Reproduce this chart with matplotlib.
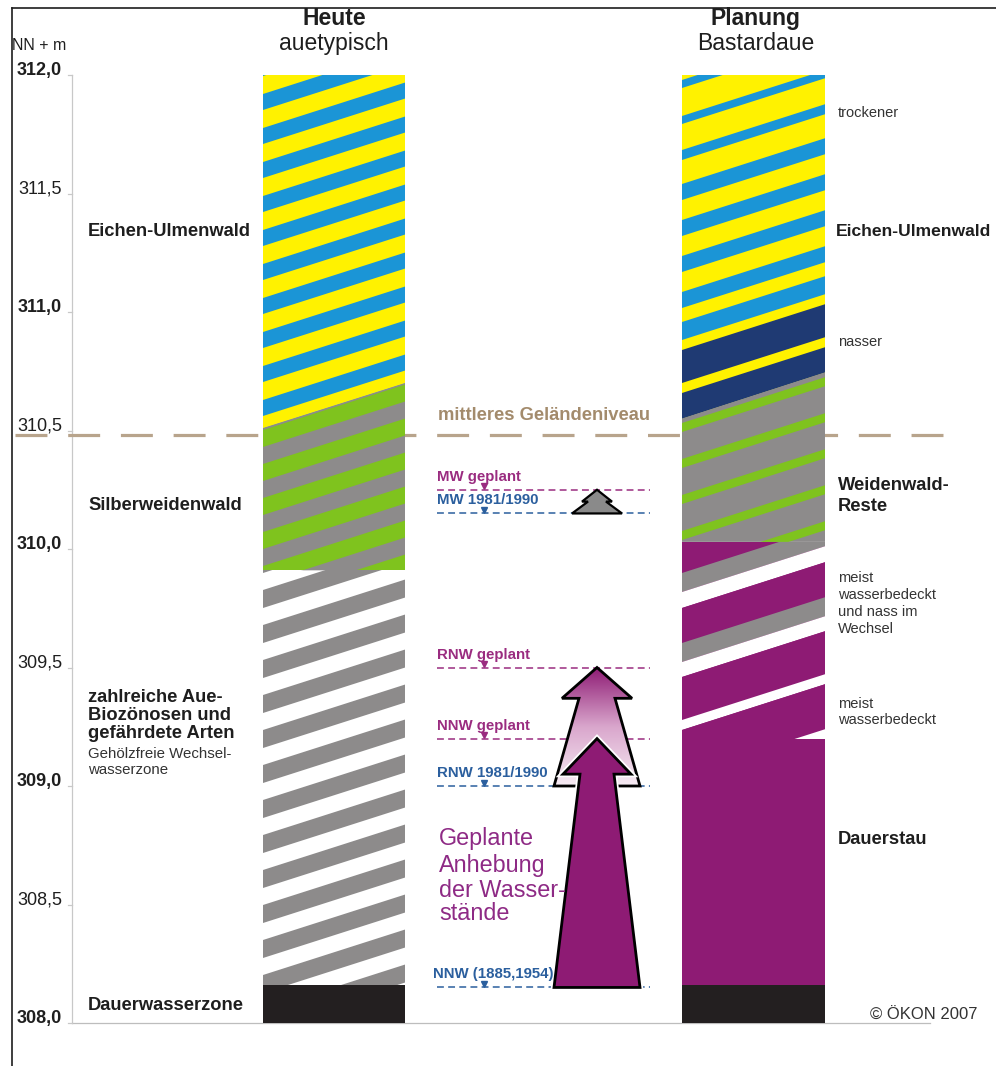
import matplotlib
matplotlib.use("Agg")
import matplotlib.pyplot as plt
import matplotlib.patheffects as pe
import numpy as np
from matplotlib.colors import LinearSegmentedColormap
from matplotlib.patches import Polygon

plt.rcParams["font.family"] = ["Liberation Sans", "DejaVu Sans"]

# ---- data -------------------------------------------------------------
TICKS = [308.0, 308.5, 309.0, 309.5, 310.0, 310.5, 311.0, 311.5, 312.0]
TICK_LABELS = ["308,0", "308,5", "309,0", "309,5", "310,0", "310,5", "311,0", "311,5", "312,0"]
TICK_BOLD = [True, False, True, False, True, False, True, False, True]

GELAENDE = 310.48

LEVEL_NAMES = ["MW geplant", "MW 1981/1990", "RNW geplant", "NNW geplant",
               "RNW 1981/1990", "NNW (1885,1954)"]
LEVEL_VALUES = [310.25, 310.15, 309.50, 309.20, 309.00, 308.15]
LEVEL_PLANNED = [True, False, True, True, False, False]

# (from, to) pairs for the arrows, as indexes into LEVEL_VALUES
ARROW_PAIRS = [(1, 0), (4, 2), (5, 3)]

# zone tops (m) at left / right edge of each column, bottom is 308.0
BOTTOM = 308.0
HEUTE_TOP_L = [312.0, 310.51, 309.91, 308.16]
HEUTE_TOP_R = [312.0, 310.70, 309.91, 308.16]
PLAN_TOP_L = [312.0, 310.55, 310.03, 309.20, 308.16]
PLAN_TOP_R = [312.0, 310.745, 310.03, 309.20, 308.16]

# ---- style ------------------------------------------------------------
INK = "#1e1e1e"
YELLOW = "#fff200"
BLUE = "#1b95d6"
NAVY = "#1f3a73"
GREEN = "#7fc31e"
GREY = "#8d8b8b"
PURPLE = "#8e1b74"
BLACK = "#231f20"
TAN = "#b8a48c"
TAN_TEXT = "#a38b6c"
LBL_PURPLE = "#9a2c80"
LBL_BLUE = "#2b5f9e"

W, H = 996, 1066
TOP_PX, PX_PER_M, TOP_M = 75, 237.0, 312.0
SLOPE = 0.32 / PX_PER_M          # stripe rise in m per px
COL_L = (263, 405)
COL_R = (682, 825)


def m(px):
    return TOP_M - (px - TOP_PX) / PX_PER_M


def zone(ax, x0, x1, tl, tr, bl, br, color, bands=()):
    bg = Polygon([(x0, tl), (x1, tr), (x1, br), (x0, bl)], closed=True,
                 facecolor=color, edgecolor="none", zorder=2)
    ax.add_patch(bg)
    rise = SLOPE * (x1 - x0)
    for top_px, bot_px, c in bands:
        yt, yb = m(top_px), m(bot_px)
        p = Polygon([(x0, yt), (x1, yt + rise), (x1, yb + rise), (x0, yb)],
                    closed=True, facecolor=c, edgecolor="none", zorder=2.1)
        ax.add_patch(p)
        p.set_clip_path(bg)


def arrow_pts(xc, yb, yt, head, hw, sw_top, sw_bot):
    return [(xc, yt), (xc + hw, yt - head), (xc + sw_top, yt - head),
            (xc + sw_bot, yb), (xc - sw_bot, yb), (xc - sw_top, yt - head),
            (xc - hw, yt - head)]


def tree_pts(xc, yb, yt):
    mid = yt - 0.5 * (yt - yb)
    return [(xc, yt), (xc + 15, mid), (xc + 9, mid), (xc + 25, yb),
            (xc - 25, yb), (xc - 9, mid), (xc - 15, mid)]


def txt(ax, x, y_px, s, size, bold=False, color=INK, ha="left"):
    ax.text(x, m(y_px), s, fontsize=size, fontweight="bold" if bold else "normal",
            color=color, ha=ha, va="baseline", zorder=6)


fig = plt.figure(figsize=(W / 100, H / 100), dpi=100)
ax = fig.add_axes([0, 0, 1, 1])
ax.set_axis_off()

# frame
ax.plot([12, W], [m(8), m(8)], color=INK, lw=1.2, zorder=1)
ax.plot([12, 12], [m(8), m(H)], color=INK, lw=1.2, zorder=1)

# elevation axis
ax.plot([72, 72], [BOTTOM, TOP_M], color="#c8c8c8", lw=0.9, zorder=1)
ax.plot([72, 930], [BOTTOM, BOTTOM], color="#bdbdbd", lw=0.9, zorder=1)
for v, lab, b in zip(TICKS, TICK_LABELS, TICK_BOLD):
    ax.plot([68, 72], [v, v], color="#c8c8c8", lw=0.9, zorder=1)
    ax.text(62, v, lab, fontsize=13, fontweight="bold" if b else "normal",
            color=INK, ha="right", va="baseline")
txt(ax, 12, 50, "NN + m", 11.5)

# mittleres Gelaendeniveau
ax.plot([15, 962], [GELAENDE, GELAENDE], color=TAN, lw=2.3, dashes=(10, 6.5), zorder=1)
txt(ax, 544, 420, "mittleres Geländeniveau", 13.2, bold=True, color=TAN_TEXT, ha="center")

# ---- left column (Heute) ----------------------------------------------
x0, x1 = COL_L
tl = HEUTE_TOP_L + [BOTTOM]
tr = HEUTE_TOP_R + [BOTTOM]
zone(ax, x0, x1, tl[0], tr[0], tl[1], tr[1], YELLOW,
     [(s, s + 16, BLUE) for s in range(400, 0, -34)])
zone(ax, x0, x1, tl[1], tr[1], tl[2], tr[2], GREEN,
     [(447 + 34 * k, 447 + 34 * k + 17, GREY) for k in range(-3, 6)])
zone(ax, x0, x1, tl[2], tr[2], tl[3], tr[3], "white",
     [(590 + 35 * k, 590 + 35 * k + 18, GREY) for k in range(-2, 13)])
zone(ax, x0, x1, tl[3], tr[3], tl[4], tr[4], BLACK)

# ---- right column (Planung) -------------------------------------------
x0, x1 = COL_R
tl = PLAN_TOP_L + [BOTTOM]
tr = PLAN_TOP_R + [BOTTOM]
zone(ax, x0, x1, tl[0], tr[0], tl[1], tr[1], YELLOW,
     [(45, 52, BLUE), (80, 88, BLUE), (116, 124, BLUE), (150, 160, BLUE),
      (184, 200, BLUE), (220, 236, BLUE), (256, 272, BLUE), (292, 308, BLUE),
      (322, 340, BLUE), (350, 383, NAVY), (393, 420, NAVY)])
zone(ax, x0, x1, tl[1], tr[1], tl[2], tr[2], GREY,
     [(423 + 36 * k, 423 + 36 * k + 9, GREEN) for k in range(-1, 6)])
zone(ax, x0, x1, tl[2], tr[2], tl[3], tr[3], PURPLE,
     [(480, 541, GREY), (541, 573, PURPLE), (573, 592, GREY), (592, 608, "white"),
      (608, 643, PURPLE), (643, 662, GREY), (662, 677, "white"),
      (677, 720, PURPLE), (720, 730, "white"), (730, 775, PURPLE),
      (775, 786, "white")])
zone(ax, x0, x1, tl[3], tr[3], tl[4], tr[4], PURPLE)
zone(ax, x0, x1, tl[4], tr[4], tl[5], tr[5], BLACK)

# ---- water levels -----------------------------------------------------
for name, v, planned in zip(LEVEL_NAMES, LEVEL_VALUES, LEVEL_PLANNED):
    c = LBL_PURPLE if planned else LBL_BLUE
    ax.plot([437, 650], [v, v], color=c, lw=1.1, dashes=(4.5, 2.8), zorder=3)
    ax.plot([484], [v + 3.5 / PX_PER_M], marker="v", ms=4.5, color=c, zorder=3)
    x_lab = 433 if name.startswith("NNW (") else 437
    ax.text(x_lab, v + 9 / PX_PER_M, name, fontsize=10.8, fontweight="bold",
            color=c, ha="left", va="baseline", zorder=6)

# arrows
XC = 597
lo, hi = ARROW_PAIRS[0]
ax.add_patch(Polygon(tree_pts(XC, LEVEL_VALUES[lo], LEVEL_VALUES[hi]), closed=True,
                     facecolor="#8a8a8a", edgecolor="black", lw=1.6, zorder=5))

lo, hi = ARROW_PAIRS[1]
pts = arrow_pts(XC, LEVEL_VALUES[lo], LEVEL_VALUES[hi], 0.13, 35, 18, 43)
grad_patch = Polygon(pts, closed=True, facecolor="none", edgecolor="black", lw=2, zorder=5)
ax.add_patch(grad_patch)
cmap = LinearSegmentedColormap.from_list("rise", ["#f7ecf4", "#d9a6cc", PURPLE])
im = ax.imshow(np.linspace(0, 1, 256).reshape(-1, 1), cmap=cmap, origin="lower",
               extent=(XC - 45, XC + 45, LEVEL_VALUES[lo], LEVEL_VALUES[hi]),
               aspect="auto", zorder=4.5)
im.set_clip_path(grad_patch)

lo, hi = ARROW_PAIRS[2]
solid = Polygon(arrow_pts(XC, LEVEL_VALUES[lo], LEVEL_VALUES[hi], 0.15, 34, 17, 43),
                closed=True, facecolor=PURPLE, edgecolor="black", lw=2, zorder=5.5)
solid.set_path_effects([pe.Stroke(linewidth=4.5, foreground="white"), pe.Normal()])
ax.add_patch(solid)

for y_px, s in zip([845, 872, 897, 920], ["Geplante", "Anhebung", "der Wasser-", "stände"]):
    txt(ax, 439, y_px, s, 16.8, color="#8e2a85")

# ---- headers and zone labels ------------------------------------------
txt(ax, 334, 25, "Heute", 16.5, bold=True, ha="center")
txt(ax, 334, 50, "auetypisch", 16.5, ha="center")
txt(ax, 756, 25, "Planung", 16.5, bold=True, ha="center")
txt(ax, 756, 50, "Bastardaue", 16.5, ha="center")

txt(ax, 88, 236, "Eichen-Ulmenwald", 13.2, bold=True)
txt(ax, 88, 510, "Silberweidenwald", 13.2, bold=True)
for y_px, s in zip([702, 720, 738], ["zahlreiche Aue-", "Biozönosen und", "gefährdete Arten"]):
    txt(ax, 88, y_px, s, 13.2, bold=True)
txt(ax, 88, 758, "Gehölzfreie Wechsel-", 10.8, color="#333333")
txt(ax, 88, 774, "wasserzone", 10.8, color="#333333")
txt(ax, 88, 1010, "Dauerwasserzone", 13.2, bold=True)

txt(ax, 838, 117, "trockener", 10.5, color="#333333")
txt(ax, 836, 236, "Eichen-Ulmenwald", 12.6, bold=True)
txt(ax, 838, 346, "nasser", 10.5, color="#333333")
txt(ax, 838, 490, "Weidenwald-", 13.2, bold=True)
txt(ax, 838, 511, "Reste", 13.2, bold=True)
for y_px, s in zip([582, 599, 616, 633], ["meist", "wasserbedeckt", "und nass im", "Wechsel"]):
    txt(ax, 838, y_px, s, 10.5, color="#333333")
for y_px, s in zip([708, 724], ["meist", "wasserbedeckt"]):
    txt(ax, 838, y_px, s, 10.5, color="#333333")
txt(ax, 838, 844, "Dauerstau", 13.2, bold=True)
txt(ax, 870, 1020, "© ÖKON 2007", 12, color="#333333")

ax.set_xlim(0, W)
ax.set_ylim(m(H), m(0))
fig.savefig("out.png", dpi=100)
